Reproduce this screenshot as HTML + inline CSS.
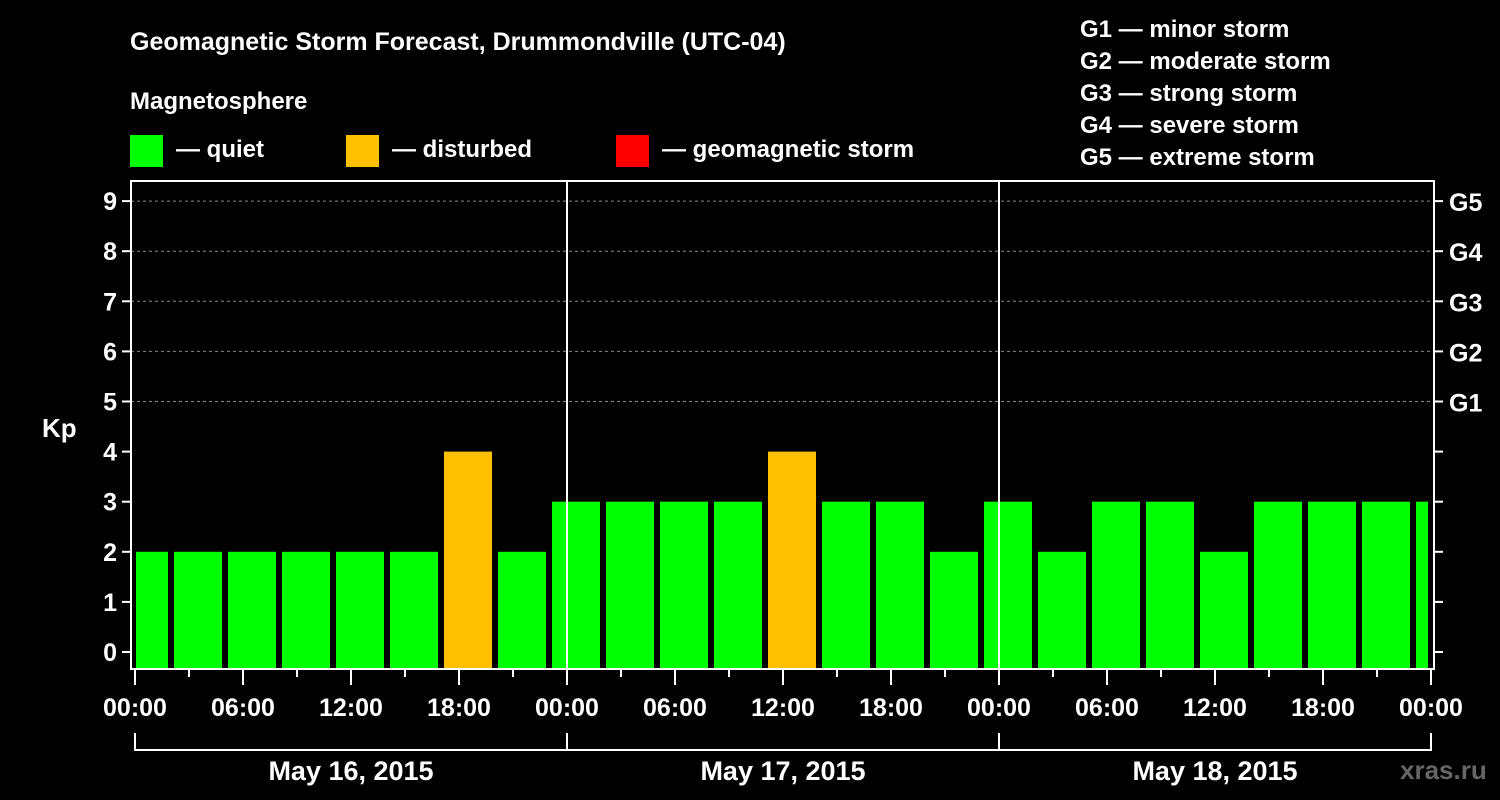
<!DOCTYPE html>
<html><head><meta charset="utf-8"><style>
body{margin:0;background:#000;}
svg{display:block;font-family:"Liberation Sans",Arial,sans-serif;font-weight:bold;}
</style></head><body>
<svg id="c" width="1500" height="800" viewBox="0 0 1500 800">
<rect width="1500" height="800" fill="#000"/>
<text x="130" y="50" fill="#fff" font-size="25">Geomagnetic Storm Forecast, Drummondville (UTC-04)</text>
<text x="130" y="109" fill="#fff" font-size="24">Magnetosphere</text>
<g><rect x="130" y="135" width="33" height="32" fill="#00ff00"/><text x="176" y="157" fill="#fff" font-size="24">— quiet</text></g>
<g><rect x="346" y="135" width="33" height="32" fill="#ffc000"/><text x="392" y="157" fill="#fff" font-size="24">— disturbed</text></g>
<g><rect x="616" y="135" width="33" height="32" fill="#ff0000"/><text x="662" y="157" fill="#fff" font-size="24">— geomagnetic storm</text></g>
<g fill="#fff" font-size="24">
<text x="1080" y="37">G1 — minor storm</text>
<text x="1080" y="69">G2 — moderate storm</text>
<text x="1080" y="101">G3 — strong storm</text>
<text x="1080" y="133">G4 — severe storm</text>
<text x="1080" y="165">G5 — extreme storm</text>
</g>
<text x="42" y="437" fill="#fff" font-size="26">Kp</text>
<text x="1400" y="779" fill="#666" font-size="26">xras.ru</text>
<g id="plot"></g>
</svg>
<script>
const kpValues=[2,2,2,2,2,2,4,2, 3,3,3,3,4,3,3,2, 3,2,3,3,2,3,3,3, 3];
const yTicks=[0,1,2,3,4,5,6,7,8,9];
const gLabels=["G1","G2","G3","G4","G5"];
const xTickLabels=["00:00","06:00","12:00","18:00","00:00","06:00","12:00","18:00","00:00","06:00","12:00","18:00","00:00"];
const dayLabels=["May 16, 2015","May 17, 2015","May 18, 2015"];
const NS="http://www.w3.org/2000/svg";
const g=document.getElementById('plot');
const L=131,R=1434,T=181,B=669,X0=135,PXH=18;
const y=v=>652-50.1*v;
const x=h=>X0+h*PXH;
function mk(t,a,p){const e=document.createElementNS(NS,t);for(const k in a)e.setAttribute(k,a[k]);(p||g).appendChild(e);return e;}
// grid
yTicks.forEach(v=>{
  if(v>=5){const l=mk('line',{x1:L,x2:R,y1:y(v),y2:y(v),stroke:'#888','stroke-dasharray':'3,3','stroke-width':1});
  
  }
  const t=mk('line',{x1:L-9,x2:L,y1:y(v),y2:y(v),stroke:'#fff','stroke-width':2});
  
  
  const t2=mk('line',{x1:R,x2:R+9,y1:y(v),y2:y(v),stroke:'#fff','stroke-width':2});
  
  
  const tx=mk('text',{x:L-14,y:y(v)+9,fill:'#fff','font-size':25,'text-anchor':'end'});tx.textContent=v;
  
  
});
gLabels.forEach((s,i)=>{const tx=mk('text',{x:R+15,y:y(5+i)+10,fill:'#fff','font-size':25});tx.textContent=s;
  
  });
// bars
kpValues.forEach((v,i)=>{
  const c=x(0.5+3*i);let a=c-24,b=c+24;a=Math.max(a,136);b=Math.min(b,1428);
  if(b<=a)return;
  const col=v>=5?'#ff0000':(v>=4?'#ffc000':'#00ff00');
  const r=mk('rect',{x:a,y:y(v),width:b-a,height:B-1-y(v),fill:col});
  
  
});
// day separators
[1,2].forEach(d=>{const l=mk('line',{x1:x(24*d),x2:x(24*d),y1:T,y2:B,stroke:'#fff','stroke-width':2});
  
  });
// frame
const f=mk('rect',{x:L,y:T,width:R-L,height:B-T,fill:'none',stroke:'#fff','stroke-width':2});


// x ticks
for(let h=0;h<=72;h+=3){const maj=h%6===0;const l=mk('line',{x1:x(h),x2:x(h),y1:B,y2:B+(maj?16:8),stroke:'#fff','stroke-width':2});
  
  }
xTickLabels.forEach((s,i)=>{const tx=mk('text',{x:x(6*i),y:716,fill:'#fff','font-size':25,'text-anchor':'middle'});tx.textContent=s;
  
  });
dayLabels.forEach((s,i)=>{
  const p=mk('path',{d:`M${x(24*i)},733V750H${x(24*i+24)}V733`,fill:'none',stroke:'#fff','stroke-width':2});
  
  
  const tx=mk('text',{x:x(24*i+12),y:780,fill:'#fff','font-size':27,'text-anchor':'middle'});tx.textContent=s;
  
  
});
</script>
</body></html>
